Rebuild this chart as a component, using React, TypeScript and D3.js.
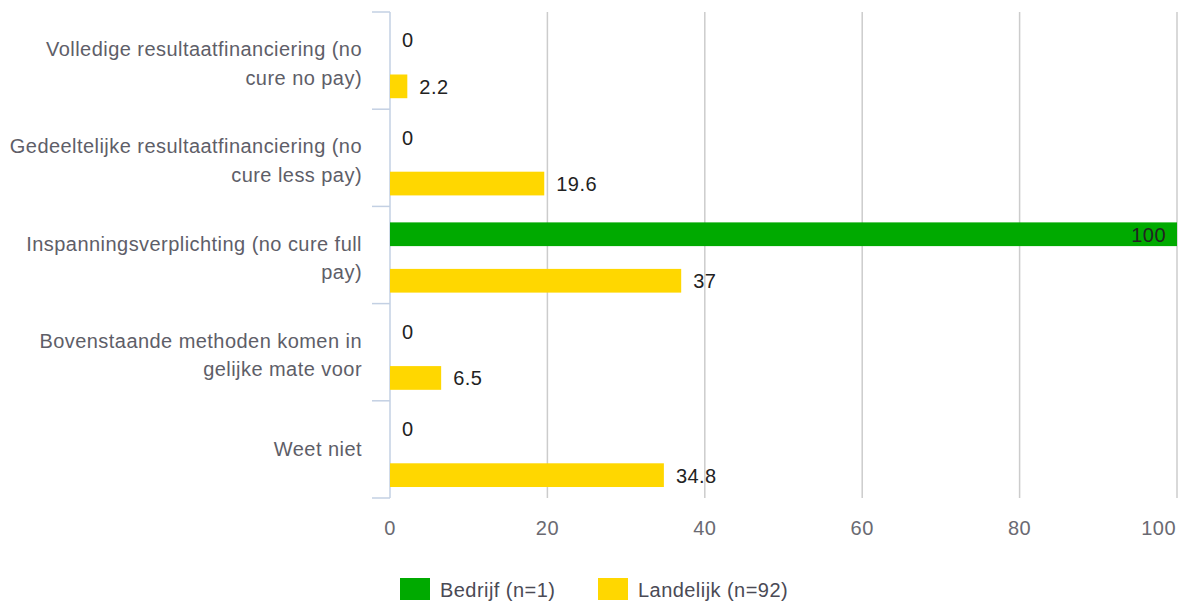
import React from "react";
import * as d3 from "d3";

const categories = [
  ["Volledige resultaatfinanciering (no", "cure no pay)"],
  ["Gedeeltelijke resultaatfinanciering (no", "cure less pay)"],
  ["Inspanningsverplichting (no cure full", "pay)"],
  ["Bovenstaande methoden komen in", "gelijke mate voor"],
  ["Weet niet"],
];
const seriesNames = ["Bedrijf (n=1)", "Landelijk (n=92)"];
const bedrijf = [0, 0, 100, 0, 0];
const landelijk = [2.2, 19.6, 37, 6.5, 34.8];
const xTicks = [0, 20, 40, 60, 80, 100];
const colors = ["#00aa00", "#ffd700"];

const W = 1181, H = 603;
const left = 390, right = 1177, top = 12, bottom = 498;
const font = "'Liberation Sans', Arial, sans-serif";
const FS = 20;
const LS = 0.45;

export default function App() {
  const x = d3.scaleLinear().domain([0, 100]).range([left, right]);
  const y = d3.scaleBand<number>().domain(d3.range(categories.length)).range([top, bottom]);
  const inner = d3.scaleBand<number>().domain([0, 1]).range([2.5, y.bandwidth() + 2.5]).paddingInner(0.49).paddingOuter(0.29);
  const series = [bedrijf, landelijk];
  return (
    <div style={{ position: "absolute", left: 0, top: 0 }}>
      <svg width={W} height={H} style={{ display: "block", fontFamily: font, letterSpacing: LS }}>
        <rect width={W} height={H} fill="#fff" />
        {xTicks.filter(t => t > 0).map(t => (
          <line key={t} x1={x(t)} x2={x(t)} y1={top} y2={bottom} stroke="#cccccc" strokeWidth={1.5} />
        ))}
        {xTicks.map((t, i) => {
          const last = i === xTicks.length - 1;
          return (
            <text key={"t" + t} x={last ? x(t) - 1 : x(t)} y={528} dy="0.35em" textAnchor={last ? "end" : "middle"} fontSize={FS} fill="#6a6a72">{t}</text>
          );
        })}
        <line x1={left} x2={left} y1={top} y2={bottom} stroke="#c3d0e3" strokeWidth={1.5} />
        {d3.range(categories.length + 1).map(i => {
          const yy = i < categories.length ? y(i)! : bottom;
          return <line key={"b" + i} x1={372} x2={left} y1={yy} y2={yy} stroke="#c3d0e3" strokeWidth={1.5} />;
        })}
        {categories.map((lines, i) => {
          const cy = y(i)! + y.bandwidth() / 2;
          const lh = 28.5;
          const start = lines.length > 1 ? cy - 11.5 : cy;
          return lines.map((l, j) => (
            <text key={i + "-" + j} x={362} y={start + j * lh} dy="0.35em" textAnchor="end" fontSize={FS} fill="#5e5e68">{l}</text>
          ));
        })}
        {series.map((vals, s) =>
          vals.map((v, i) => {
            const by = y(i)! + inner(s)!;
            const bh = inner.bandwidth();
            const w = x(v) - x(0);
            const inside = v >= 90;
            return (
              <g key={s + "-" + i}>
                {v > 0 && <rect x={x(0)} y={by} width={w} height={bh} fill={colors[s]} />}
                <text
                  x={inside ? x(v) - 11 : x(v) + 12}
                  y={by + bh / 2 + 0.5}
                  dy="0.35em"
                  textAnchor={inside ? "end" : "start"}
                  fontSize={FS}
                  fill="#222"
                >{v}</text>
              </g>
            );
          })
        )}
        {seriesNames.map((n, s) => {
          const lx = [400, 598][s];
          return (
            <g key={n}>
              <rect x={lx} y={578} width={30} height={22} fill={colors[s]} />
              <text x={lx + 40} y={590} dy="0.35em" fontSize={FS} fill="#4a4a55">{n}</text>
            </g>
          );
        })}
      </svg>
    </div>
  );
}
